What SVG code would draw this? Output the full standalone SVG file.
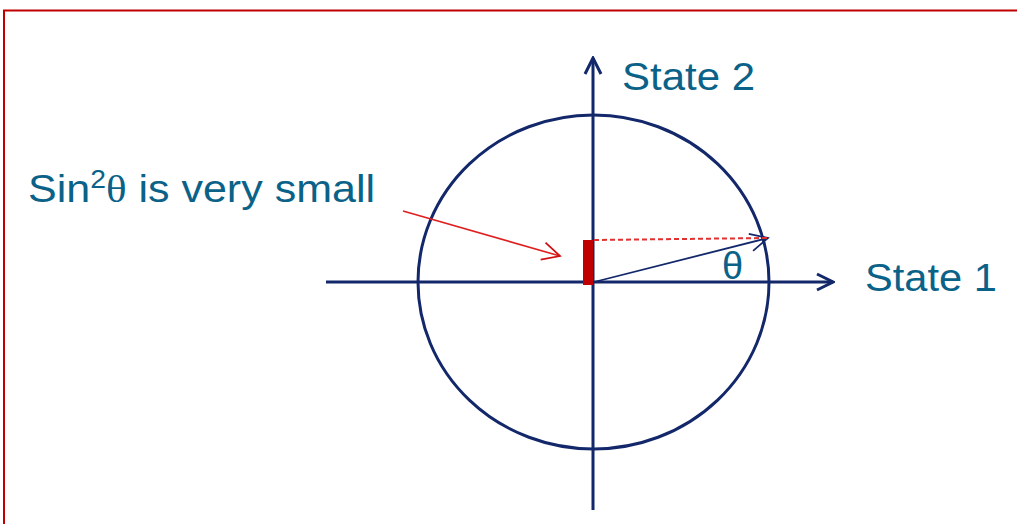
<svg xmlns="http://www.w3.org/2000/svg" width="1017" height="524" viewBox="0 0 1017 524">
<style>
.t{font-family:"Liberation Sans",Arial,sans-serif;font-size:38px;fill:#0b6288}
.ax{stroke:#13286a;stroke-width:3;fill:none}
</style>
<defs>
<marker id="open" viewBox="0 0 20 20" refX="18" refY="10" markerWidth="20" markerHeight="20" markerUnits="userSpaceOnUse" orient="auto">
<path d="M2,2 L18,10 L2,18" fill="none" stroke="#13286a" stroke-width="3"/>
</marker>
<marker id="openS" viewBox="0 0 20 20" refX="18" refY="10" markerWidth="22" markerHeight="22" markerUnits="userSpaceOnUse" orient="auto">
<path d="M2,2 L18,10 L2,18" fill="none" stroke="#13286a" stroke-width="1.6"/>
</marker>
<marker id="openR" viewBox="0 0 20 20" refX="18" refY="10" markerWidth="22" markerHeight="22" markerUnits="userSpaceOnUse" orient="auto">
<path d="M2,2 L18,10 L2,18" fill="none" stroke="#d01010" stroke-width="1.6"/>
</marker>
</defs>
<rect x="4" y="10.5" width="1030" height="540" fill="none" stroke="#c00000" stroke-width="2"/>
<g id="circle"><ellipse cx="593.5" cy="282" rx="175.5" ry="167" class="ax"/></g>
<g id="connectors">
<line x1="326" y1="282" x2="833" y2="282" class="ax" marker-end="url(#open)"/>
<line x1="593" y1="510" x2="593" y2="58" class="ax" marker-end="url(#open)"/>
<line x1="594" y1="282" x2="768" y2="238" stroke="#13286a" stroke-width="1.8" marker-end="url(#openS)"/>
<line x1="594" y1="240" x2="768" y2="238" stroke="#e03030" stroke-width="2" stroke-dasharray="5,3"/>
<line x1="403" y1="211" x2="560" y2="256" stroke="#e02020" stroke-width="1.6" marker-end="url(#openR)"/>
</g>
<g id="bar"><rect x="583" y="240" width="10" height="45" fill="#c00000"/></g>
<g id="labels">
<text class="t" x="28" y="202" textLength="347" lengthAdjust="spacingAndGlyphs">Sin<tspan font-size="25" dy="-14">2</tspan><tspan dy="14" font-family="Liberation Serif">θ</tspan> is very small</text>
<text class="t" x="622" y="90" textLength="133" lengthAdjust="spacingAndGlyphs">State 2</text>
<text class="t" x="865" y="291" textLength="132" lengthAdjust="spacingAndGlyphs">State 1</text>
<text class="t" x="722" y="279" font-size="32" font-family="Liberation Serif">θ</text>
</g>
</svg>
